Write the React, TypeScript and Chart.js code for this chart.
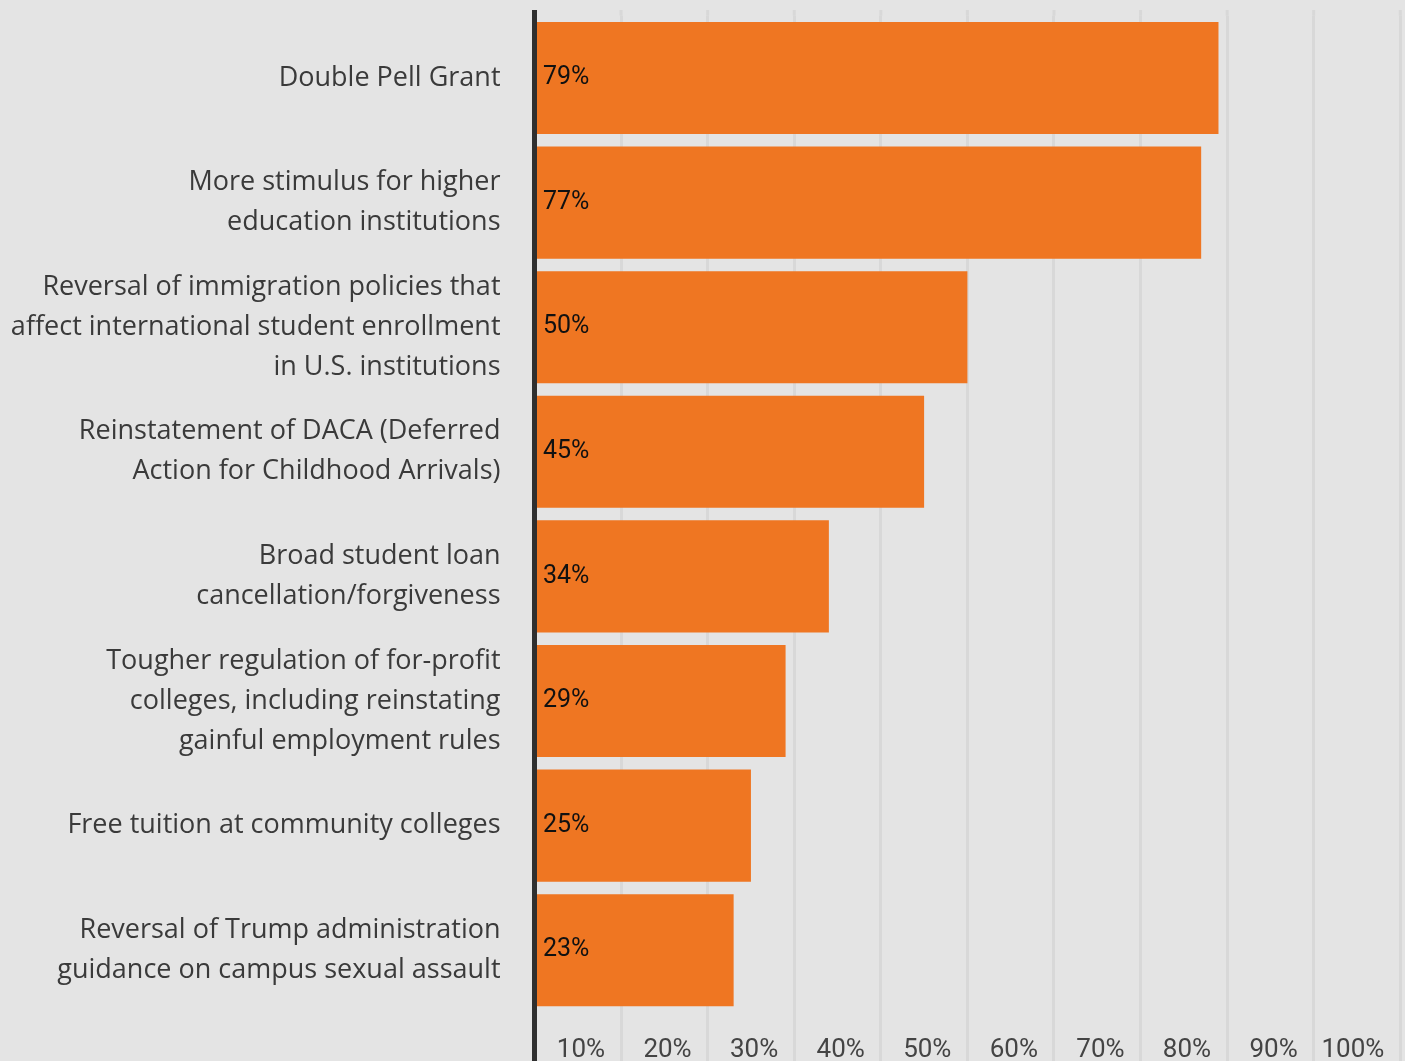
import React, { useEffect, useRef } from "react";
import { Chart, registerables } from "chart.js";

Chart.register(...registerables);

const categories: (string | string[])[] = [
  "Double Pell Grant",
  ["More stimulus for higher", "education institutions"],
  ["Reversal of immigration policies that", "affect international student enrollment", "in U.S. institutions"],
  ["Reinstatement of DACA (Deferred", "Action for Childhood Arrivals)"],
  ["Broad student loan", "cancellation/forgiveness"],
  ["Tougher regulation of for-profit", "colleges, including reinstating", "gainful employment rules"],
  "Free tuition at community colleges",
  ["Reversal of Trump administration", "guidance on campus sexual assault"],
];

const values: number[] = [79, 77, 50, 45, 34, 29, 25, 23];

const tickValues: number[] = [0, 10, 20, 30, 40, 50, 60, 70, 80, 90, 100];

const BG = "#e4e4e4";
const GRID = "#d8d8d8";
const BAR = "#ef7622";
const AXIS = "#2f2f2f";

const barLabels = {
  id: "barLabels",
  afterDatasetsDraw(chart: any) {
    const ctx = chart.ctx;
    const meta = chart.getDatasetMeta(0);
    ctx.save();
    ctx.font = "25px Roboto";
    ctx.fillStyle = "#111111";
    ctx.textAlign = "left";
    ctx.textBaseline = "middle";
    meta.data.forEach((el: any, i: number) => {
      ctx.fillText(values[i] + "%", el.base + 7, el.y);
    });
    // axis line spanning full height
    ctx.fillStyle = AXIS;
    const left = chart.scales.x.getPixelForValue(0);
    ctx.fillRect(left - 2.5, 10, 5, chart.height - 10);
    ctx.restore();
  },
};

const gridTop = {
  id: "gridTop",
  beforeDatasetsDraw(chart: any) {
    const ctx = chart.ctx;
    const xs = chart.scales.x;
    const top = chart.chartArea.top;
    ctx.save();
    ctx.fillStyle = GRID;
    xs.ticks.forEach((t: any) => {
      const px = xs.getPixelForValue(t.value);
      ctx.fillRect(px - 1.5, 10, 3, top - 10);
    });
    ctx.restore();
  },
};

export default function App() {
  const ref = useRef<HTMLCanvasElement | null>(null);
  useEffect(() => {
    document.body.style.margin = "0";
    const chart = new Chart(ref.current as HTMLCanvasElement, {
      type: "bar",
      data: {
        labels: categories,
        datasets: [
          {
            data: values,
            backgroundColor: BAR,
            borderWidth: 0,
            barPercentage: 0.9,
            categoryPercentage: 1,
          },
        ],
      },
      options: {
        indexAxis: "y",
        animation: false,
        responsive: false,
        devicePixelRatio: 1,
        layout: { padding: { top: 15.7, right: 4.7, left: 0, bottom: 0 } },
        plugins: { legend: { display: false }, tooltip: { enabled: false } },
        scales: {
          x: {
            min: 0,
            max: 100,
            afterBuildTicks: (scale: any) => {
              scale.ticks = tickValues.map((v) => ({ value: v }));
            },
            afterFit: (scale: any) => {
              scale.height = 48.5;
              scale.paddingLeft = 0;
              scale.paddingRight = 0;
            },
            grid: {
              color: GRID,
              lineWidth: 3,
              drawTicks: true,
              tickLength: 50,
              tickColor: GRID,
              tickWidth: 3,
            },
            border: { display: false },
            ticks: {
              callback: (v: any) => (Number(v) === 0 ? "" : v + "%"),
              font: { family: "Roboto", size: 26 },
              color: "#444444",
              align: "end",
              labelOffset: -16,
              padding: -27.5,
              maxRotation: 0,
              autoSkip: false,
            },
          },
          y: {
            afterFit: (scale: any) => {
              scale.width = 534.5;
              scale.paddingTop = 0;
              scale.paddingBottom = 0;
            },
            grid: { display: false, drawTicks: false },
            border: { display: false },
            ticks: {
              autoSkip: false,
              padding: 34,
              font: { family: "'Open Sans'", size: 27, lineHeight: 40 / 27 },
              color: "#3a3a3a",
            },
          },
        },
      },
      plugins: [gridTop, barLabels],
    } as any);
    return () => chart.destroy();
  }, []);
  return (
    <div
      style={{
        position: "fixed",
        left: 0,
        top: 0,
        width: 1405,
        height: 1061,
        background: BG,
      }}
    >
      <canvas ref={ref} width={1405} height={1061} style={{ display: "block" }} />
    </div>
  );
}
